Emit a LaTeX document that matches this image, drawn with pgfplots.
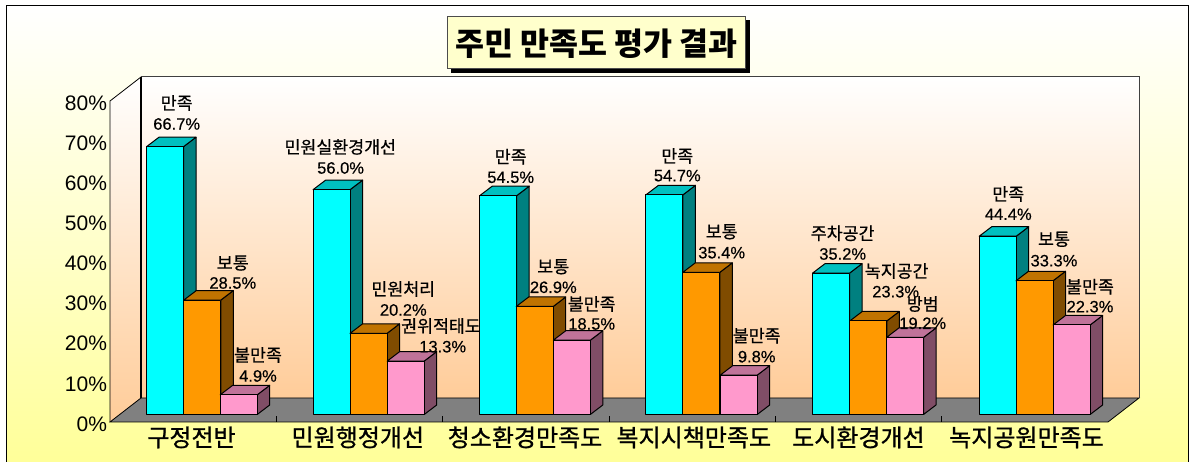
\documentclass[border=0pt]{standalone}
\usepackage{fontspec}
\usepackage{pgfplots}
\pgfplotsset{compat=1.18}
\setmainfont{Liberation Sans}
\newfontfamily\kr{Noto Sans CJK KR}
\newfontfamily\krb[FakeBold=0.6]{Noto Sans CJK KR}
\newfontfamily\krc[FakeBold=0.9]{Noto Sans CJK KR}
\newfontfamily\numb[FakeBold=0.35]{Liberation Sans}
\definecolor{bgy}{HTML}{FFFF99}
\definecolor{wallb}{HTML}{FFCC99}
\definecolor{titleb}{HTML}{FFFFCC}
\definecolor{cA}{HTML}{00FFFF}\definecolor{cAs}{HTML}{008080}\definecolor{cAt}{HTML}{00C0C0}
\definecolor{cB}{HTML}{FF9900}\definecolor{cBs}{HTML}{804C00}\definecolor{cBt}{HTML}{C07300}
\definecolor{cC}{HTML}{FF99CC}\definecolor{cCs}{HTML}{804D66}\definecolor{cCt}{HTML}{C07399}
\newcommand\declbox[3]{\pgfdeclareplotmark{#1}{%
  \pgfsetlinewidth{1pt}\pgfsetstrokecolor{black}\pgfsetroundjoin
  \pgfsetfillcolor{#3}%
  \pgfpathmoveto{\pgfpoint{18.5pt}{0pt}}%
  \pgfpathlineto{\pgfpoint{31pt}{9.5pt}}%
  \pgfpathlineto{\pgfpoint{31pt}{9.5pt-\hgt pt}}%
  \pgfpathlineto{\pgfpoint{18.5pt}{-\hgt pt}}%
  \pgfpathclose\pgfusepath{fill,stroke}%
  \pgfsetfillcolor{#3t}%
  \pgfpathmoveto{\pgfpoint{-18.5pt}{0pt}}%
  \pgfpathlineto{\pgfpoint{-6pt}{9.5pt}}%
  \pgfpathlineto{\pgfpoint{31pt}{9.5pt}}%
  \pgfpathlineto{\pgfpoint{18.5pt}{0pt}}%
  \pgfpathclose\pgfusepath{fill,stroke}%
  \pgfsetfillcolor{#2}%
  \pgfpathrectangle{\pgfpoint{-18.5pt}{-\hgt pt}}{\pgfpoint{37pt}{\hgt pt}}%
  \pgfusepath{fill,stroke}%
}}
\definecolor{As}{HTML}{008080}\definecolor{Ast}{HTML}{00C0C0}
\definecolor{Bs}{HTML}{804C00}\definecolor{Bst}{HTML}{C07300}
\definecolor{Cs}{HTML}{804D66}\definecolor{Cst}{HTML}{C07399}
\declbox{boxA}{cA}{As}
\declbox{boxB}{cB}{Bs}
\declbox{boxC}{cC}{Cs}
\newcommand\tlab[6]{%
  \node[font=\fontsize{17.3}{17.3}\selectfont\krb,inner sep=0pt] at (#1,#2) {#3};
  \node[font=\fontsize{16.5}{16.5}\selectfont\numb,inner sep=0pt] at (#4,#5) {#6};}
\begin{document}
\begin{tikzpicture}
\useasboundingbox (0,0) rectangle (1189pt,462pt);
\begin{scope}[x=1pt,y=-1pt,shift={(0pt,462pt)}]
  \fill[white] (0,0) rectangle (1189,462);
  \shade[top color=white,bottom color=bgy] (6.5,6) rectangle (1188,462);
  \draw[black,line width=1pt] (6.5,462) -- (6.5,6) -- (1188,6) -- (1188,462);
  % walls and floor
  \shade[top color=white,bottom color=wallb] (141,77) rectangle (1139,398);
  \shade[top color=white,bottom color=wallb] (110,101) -- (141,77) -- (141,398) -- (110,422) -- cycle;
  \fill[gray] (110,422) -- (141,398) -- (1139,398) -- (1108,422) -- cycle;
  \draw[black,line width=0.8pt] (110,422) -- (141,398) -- (1139,398) -- (1108,422) -- cycle;
  \draw[black,line width=0.8pt] (110,422) -- (110,101) -- (141,77);
  \draw[black!75,line width=1pt] (141,398) -- (141,77) -- (1139,77) -- (1139,398);
  \draw[black,line width=1.2pt] (141,77) -- (141,398);
  % title
  \fill[black] (451,20) rectangle (750,73);
  \draw[black!70,fill=titleb,line width=0.8pt] (447.5,16) rectangle (745.5,68);
  \node[font=\fontsize{31.5}{31.5}\selectfont\bfseries\kr,inner sep=0pt] at (596.5,44) {주민 만족도 평가 결과};
\end{scope}
% front plane: tick labels and separators
\begin{axis}[
  at={(110pt,40pt)},anchor=south west,scale only axis,width=998pt,height=321pt,
  xmin=0,xmax=6,ymin=0,ymax=80,clip=false,
  axis line style={draw=none},
  ytick={0,10,...,80},
  yticklabel={\pgfmathprintnumber{\tick}\%},
  yticklabel style={font=\fontsize{21}{21}\selectfont,/pgf/number format/assume math mode=true,xshift=0.5pt,yshift=-2pt},
  major tick length=0pt,
  xtick={0.49,1.49,2.495,3.51,4.5,5.51},
  xticklabels={구정전반,민원행정개선,청소환경만족도,복지시책만족도,도시환경개선,녹지공원만족도},
  xticklabel style={font=\fontsize{24}{24}\selectfont\krc,yshift=-1pt},
  minor xtick={1,2,3,4,5},
  minor tick length=6pt,
  xtick pos=bottom, ytick pos=left,
  tick align=inside,
  every minor tick/.style={black,line width=0.6pt},
]
\end{axis}
% bars
\begin{axis}[
  at={(0pt,0pt)},anchor=south west,scale only axis,width=1189pt,height=462pt,
  xmin=0,xmax=1189,ymin=-11.83,ymax=103.24,hide axis,clip=false,
]
\addplot[only marks,scatter,mark=boxA,
  scatter/@pre marker code/.code={\pgfscope},scatter/@post marker code/.code={\endpgfscope},
  visualization depends on={4.015*\thisrow{v}\as\hgt}] table {
x v
165 66.7
331.6 56.0
498.2 54.5
664.4 54.7
831 35.2
997.7 44.4
};
\addplot[only marks,scatter,mark=boxB,
  scatter/@pre marker code/.code={\pgfscope},scatter/@post marker code/.code={\endpgfscope},
  visualization depends on={4.015*\thisrow{v}\as\hgt}] table {
x v
202.3 28.5
368.5 20.2
534.7 26.9
701.3 35.4
868.3 23.3
1034.5 33.3
};
\addplot[only marks,scatter,mark=boxC,
  scatter/@pre marker code/.code={\pgfscope},scatter/@post marker code/.code={\endpgfscope},
  visualization depends on={4.015*\thisrow{v}\as\hgt}] table {
x v
238.7 4.9
405.7 13.3
571.8 18.5
738.7 9.8
905 19.2
1071.6 22.3
};
\end{axis}
\begin{scope}[x=1pt,y=-1pt,shift={(0pt,462pt)}]
  \tlab{176.7}{103}{만족}{176.7}{124}{66.7\%}
  \tlab{232.8}{263}{보통}{232.8}{283}{28.5\%}
  \tlab{258}{355}{불만족}{258}{376}{4.9\%}
  \tlab{340.3}{147}{민원실환경개선}{340.6}{168}{56.0\%}
  \tlab{403.3}{289}{민원처리}{403.3}{310}{20.2\%}
  \tlab{441}{326}{권위적태도}{442.7}{346.7}{13.3\%}
  \tlab{510.7}{156.7}{만족}{510.7}{177.3}{54.5\%}
  \tlab{553.3}{266.7}{보통}{553.3}{287.3}{26.9\%}
  \tlab{591.7}{304}{불만족}{591.7}{324}{18.5\%}
  \tlab{677.3}{156}{만족}{677.3}{175.7}{54.7\%}
  \tlab{721.7}{231.7}{보통}{721.7}{252.7}{35.4\%}
  \tlab{756.7}{335.7}{불만족}{756.7}{356.7}{9.8\%}
  \tlab{842.7}{233.3}{주차공간}{842.7}{254}{35.2\%}
  \tlab{896.7}{271}{녹지공간}{895.7}{291.7}{23.3\%}
  \tlab{922.7}{304}{방범}{922.7}{323.3}{19.2\%}
  \tlab{1008.3}{194}{만족}{1008.3}{214.3}{44.4\%}
  \tlab{1054}{239.3}{보통}{1054}{260.7}{33.3\%}
  \tlab{1090}{286.7}{불만족}{1090}{306.7}{22.3\%}
\end{scope}
\end{tikzpicture}
\end{document}
